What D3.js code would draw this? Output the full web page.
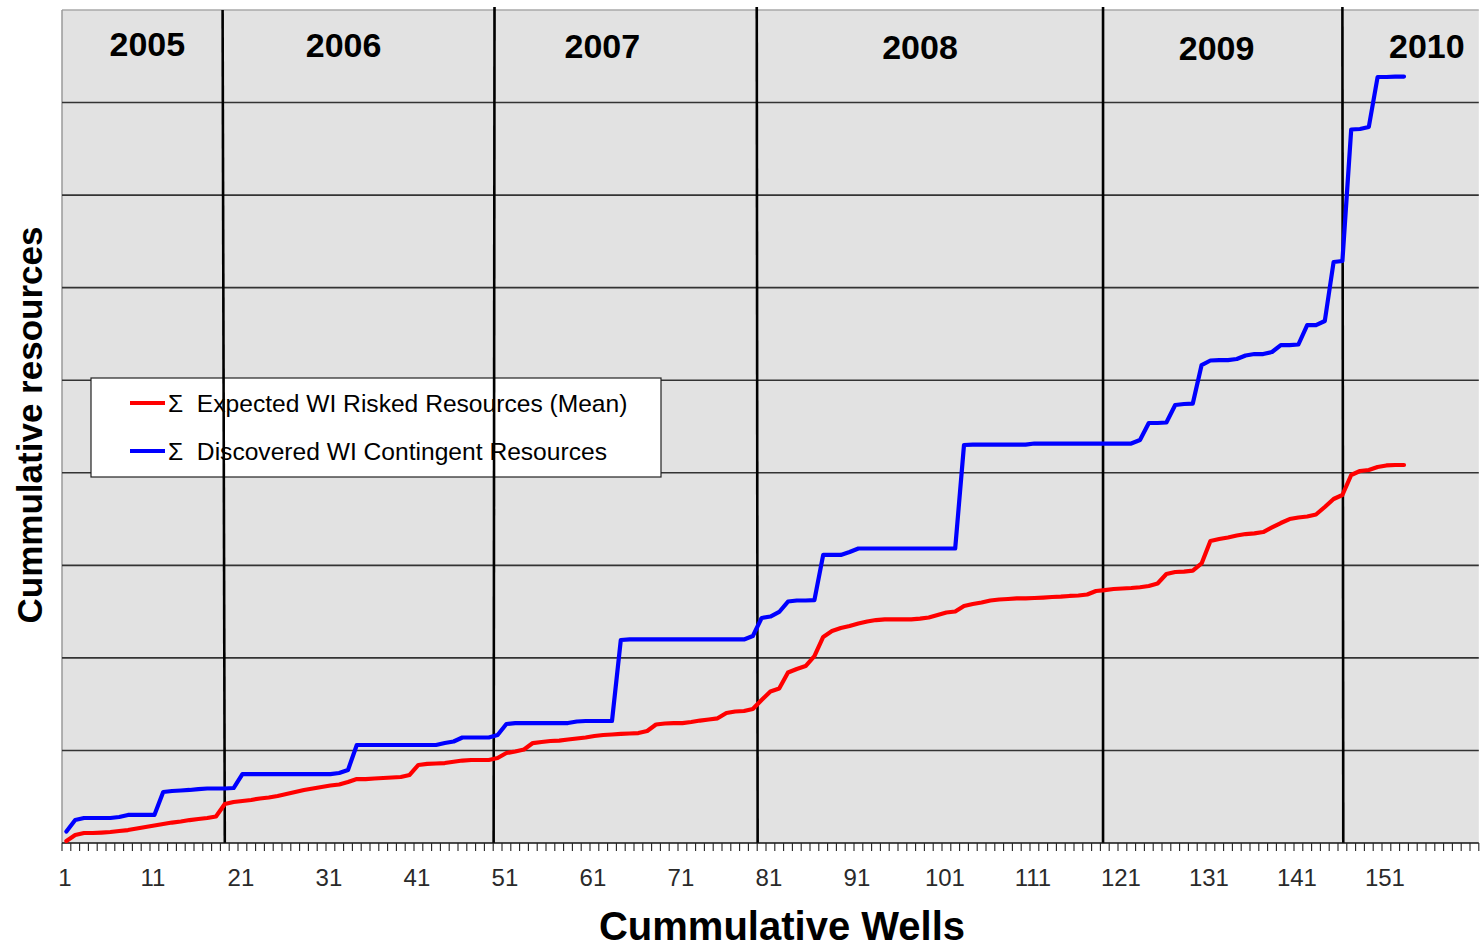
<!DOCTYPE html>
<html><head><meta charset="utf-8">
<script src="https://cdn.jsdelivr.net/npm/d3@7"></script>
<style>
body{margin:0;background:#fff;}
svg{display:block;font-family:Arial,"Liberation Sans",sans-serif;}
</style>
</head><body>
<svg id="chart" width="1481" height="950"></svg>
<script>
// ---------------- DATA ----------------
const wellCount = 161;                       // categories on the axis
const wells = d3.range(1, 154);              // wells with data
const expected = [
  2.2, 8.6, 10.8, 10.8, 11.3, 11.9, 13.0, 14.0, 15.7, 17.3,
  18.9, 20.5, 22.1, 23.2, 24.8, 25.9, 27.0, 28.6, 42.1, 44.3,
  45.4, 46.5, 48.1, 49.2, 50.8, 52.9, 55.1, 57.3, 58.9, 60.5,
  62.1, 63.2, 65.9, 69.1, 69.1, 69.7, 70.2, 70.8, 71.3, 73.5,
  84.3, 85.4, 85.9, 86.4, 87.8, 89.1, 89.7, 89.7, 89.7, 91.8,
  97.2, 98.9, 101.0, 108.0, 109.1, 110.2, 110.7, 111.8, 112.9, 114.0,
  115.6, 116.7, 117.2, 117.8, 118.3, 118.8, 121.0, 128.0, 129.1, 129.6,
  129.6, 130.7, 132.3, 133.4, 134.7, 140.5, 142.1, 142.6, 144.8, 154.5,
  163.7, 166.9, 184.2, 188.0, 191.2, 202.0, 222.6, 229.0, 232.3, 234.4,
  237.1, 239.3, 240.9, 241.7, 241.7, 241.7, 241.7, 242.5, 243.6, 246.3,
  249.0, 250.1, 256.1, 258.2, 259.8, 262.0, 263.1, 263.6, 264.2, 264.4,
  264.7, 265.2, 265.8, 266.1, 266.9, 267.4, 268.5, 272.3, 273.3, 274.4,
  275.0, 275.5, 276.3, 277.7, 280.4, 290.6, 292.8, 293.3, 294.2, 302.0,
  326.3, 328.4, 330.1, 332.2, 333.8, 334.6, 336.0, 340.9, 345.7, 350.0,
  351.7, 352.8, 354.9, 363.0, 371.7, 376.0, 397.6, 401.9, 403.0, 406.2,
  407.9, 408.4, 408.4
];
const discovered = [
  12.4, 24.8, 27.0, 27.0, 27.0, 27.0, 28.1, 30.3, 30.3, 30.3,
  30.3, 55.1, 56.2, 56.7, 57.3, 58.3, 58.9, 58.9, 58.9, 59.4,
  74.5, 74.5, 74.5, 74.5, 74.5, 74.5, 74.5, 74.5, 74.5, 74.5,
  74.5, 75.6, 78.9, 105.9, 105.9, 105.9, 105.9, 105.9, 105.9, 105.9,
  105.9, 105.9, 105.9, 108.0, 109.7, 114.0, 114.0, 114.0, 114.0, 116.7,
  128.6, 129.6, 129.6, 129.6, 129.6, 129.6, 129.6, 129.6, 131.3, 131.8,
  131.8, 131.8, 131.8, 219.3, 219.9, 219.9, 219.9, 219.9, 219.9, 219.9,
  219.9, 219.9, 219.9, 219.9, 219.9, 219.9, 219.9, 219.9, 223.6, 243.1,
  244.7, 249.6, 260.9, 262.0, 262.0, 262.5, 311.2, 311.2, 311.2, 314.4,
  318.2, 318.2, 318.2, 318.2, 318.2, 318.2, 318.2, 318.2, 318.2, 318.2,
  318.2, 318.2, 430.0, 430.5, 430.5, 430.5, 430.5, 430.5, 430.5, 430.5,
  431.6, 431.6, 431.6, 431.6, 431.6, 431.6, 431.6, 431.6, 431.6, 431.6,
  431.6, 431.6, 435.4, 453.8, 453.8, 454.3, 473.2, 474.3, 474.8, 516.4,
  521.3, 521.8, 521.8, 522.9, 526.7, 528.3, 528.3, 530.5, 538.0, 538.0,
  538.6, 559.6, 559.6, 564.0, 627.7, 628.8, 770.9, 771.4, 773.6, 827.6,
  827.6, 828.1, 828.1
];
const tickWells = [1, 11, 21, 31, 41, 51, 61, 71, 81, 91, 101, 111, 121, 131, 141, 151];
const tickLabels = ["1","11","21","31","41","51","61","71","81","91","101","111","121","131","141","151"];
const years = ["2005", "2006", "2007", "2008", "2009", "2010"];
const yearLabelWell = [10.2, 32.5, 61.9, 98.0, 131.7, 155.6];
const yearBoundTop = [18.75, 49.65, 79.45, 118.8, 146.0];
const yearBoundBottom = [19.0, 49.55, 79.55, 118.8, 146.1];
const gridValues = [100, 200, 300, 400, 500, 600, 700, 800];
const seriesNames = ["Σ  Expected WI Risked Resources (Mean)", "Σ  Discovered WI Contingent Resources"];
const seriesColors = ["#ff0000", "#0000ff"];

// ---------------- LAYOUT ----------------
const L = 62, R = 1478.8, T = 10, B = 843;
const svg = d3.select("#chart");
const x = d3.scaleLinear().domain([0.5, wellCount + 0.5]).range([L, R]);
const y = d3.scaleLinear().domain([0, 900]).range([B, T]);

// plot background
svg.append("rect").attr("x", L).attr("y", T).attr("width", R - L).attr("height", B - T)
  .attr("fill", "#e2e2e2");
// top and left border
svg.append("line").attr("x1", L).attr("x2", R).attr("y1", T).attr("y2", T)
  .attr("stroke", "#a8a8a8").attr("stroke-width", 1.5);
svg.append("line").attr("x1", L).attr("x2", L).attr("y1", T).attr("y2", B)
  .attr("stroke", "#9a9a9a").attr("stroke-width", 1.5);

// horizontal gridlines
svg.append("g").selectAll("line").data(gridValues).join("line")
  .attr("x1", L).attr("x2", R)
  .attr("y1", d => y(d)).attr("y2", d => y(d))
  .attr("stroke", "#333").attr("stroke-width", 1.6);

// legend
const lg = svg.append("g");
lg.append("rect").attr("x", 91).attr("y", 378).attr("width", 570).attr("height", 99)
  .attr("fill", "#fff").attr("stroke", "#222").attr("stroke-width", 1.2);
seriesNames.forEach((name, i) => {
  const cy = 403 + i * 48;
  lg.append("line").attr("x1", 130).attr("x2", 165).attr("y1", cy).attr("y2", cy)
    .attr("stroke", seriesColors[i]).attr("stroke-width", 3.8);
  lg.append("text").attr("x", 168).attr("y", cy + 8.5).attr("font-size", 24.6)
    .attr("fill", "#000").attr("xml:space", "preserve").style("white-space", "pre").text(name);
});

// year boundaries
svg.append("g").selectAll("line").data(yearBoundTop).join("line")
  .attr("x1", d => x(d)).attr("x2", (d, i) => x(yearBoundBottom[i]))
  .attr("y1", (d, i) => i === 0 ? T : T - 3).attr("y2", B)
  .attr("stroke", "#000").attr("stroke-width", 2.6);

// year labels
const yearBaseline = [55.5, 56.5, 57.5, 58.5, 59.5, 58];
svg.append("g").selectAll("text").data(years).join("text")
  .attr("x", (d, i) => x(yearLabelWell[i])).attr("y", (d, i) => yearBaseline[i])
  .attr("text-anchor", "middle").attr("font-size", 34).attr("font-weight", "bold")
  .attr("fill", "#000").text(d => d);

// x axis
svg.append("line").attr("x1", L).attr("x2", R).attr("y1", B).attr("y2", B)
  .attr("stroke", "#111").attr("stroke-width", 1.6);
svg.append("g").selectAll("line").data(d3.range(0, wellCount + 1)).join("line")
  .attr("x1", d => x(d + 0.5)).attr("x2", d => x(d + 0.5))
  .attr("y1", B).attr("y2", B + 8)
  .attr("stroke", "#222").attr("stroke-width", 1.1);
svg.append("g").selectAll("text").data(tickWells).join("text")
  .attr("x", d => x(d) - 1.5).attr("y", 885.5).attr("text-anchor", "middle")
  .attr("font-size", 24).attr("fill", "#2a2a2a").text((d, i) => tickLabels[i]);

// axis titles
svg.append("text").attr("x", 782).attr("y", 940).attr("text-anchor", "middle")
  .attr("font-size", 40).attr("font-weight", "bold").attr("fill", "#000")
  .text("Cummulative Wells");
svg.append("text").attr("transform", "translate(42,425) rotate(-90)")
  .attr("text-anchor", "middle").attr("font-size", 35).attr("font-weight", "bold")
  .attr("fill", "#000").text("Cummulative resources");

// series lines
const line = d3.line().x((d, i) => x(wells[i])).y(d => y(d));
[expected, discovered].forEach((vals, i) => {
  svg.append("path").datum(vals).attr("d", line)
    .attr("fill", "none").attr("stroke", seriesColors[i]).attr("stroke-width", 4.2)
    .attr("stroke-linejoin", "round").attr("stroke-linecap", "round");
});
</script>
</body></html>
